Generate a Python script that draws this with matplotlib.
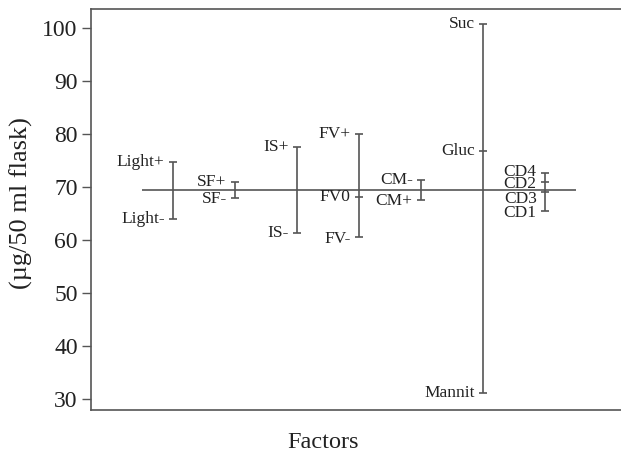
import numpy as np
import matplotlib
matplotlib.use("Agg")
import matplotlib.pyplot as plt

plt.rcParams["font.family"] = ["Liberation Serif", "DejaVu Serif"]

# factor groups along the x axis, with the level means
groups = ["Light", "SF", "IS", "FV", "CM", "Sugar", "CD"]
levels = [
    ["Light+", "Light-"],
    ["SF+", "SF-"],
    ["IS+", "IS-"],
    ["FV+", "FV0", "FV-"],
    ["CM-", "CM+"],
    ["Suc", "Gluc", "Mannit"],
    ["CD4", "CD2", "CD3", "CD1"],
]
values = [
    [74.8, 64.0],
    [70.9, 68.0],
    [77.5, 61.4],
    [79.9, 68.1, 60.5],
    [71.4, 67.5],
    [100.8, 76.7, 31.1],
    [72.6, 70.9, 69.1, 65.5],
]
# where the level names sit (the CD names are spread so they do not overlap)
label_y = [
    [74.8, 64.0],
    [71.0, 67.8],
    [77.5, 61.4],
    [79.9, 68.1, 60.2],
    [71.4, 67.3],
    [100.8, 76.7, 31.1],
    [72.8, 70.6, 67.8, 65.0],
]
grand_mean = 69.5

line_col = "#555555"
fig = plt.figure(figsize=(6.21, 4.65), dpi=100)
ax = fig.add_axes([0.1465, 0.118, 0.8535, 0.863])

ax.hlines(grand_mean, 0.5, len(groups) + 0.5, color=line_col, lw=1.2)
for i, (names, vals, ly) in enumerate(zip(levels, values, label_y)):
    x = i + 1
    ax.vlines(x, min(vals), max(vals), color=line_col, lw=1.2)
    ax.plot([x] * len(vals), vals, ls="none", marker="_", ms=6, mew=1.2,
            color=line_col)
    for name, yl in zip(names, ly):
        ax.annotate(name, (x, yl), xytext=(-6, 0), textcoords="offset points",
                    ha="right", va="center", fontsize=12.5, color="#222222")

ax.set_xlim(-0.3226, 8.226)
ax.set_ylim(27.9, 103.6)
ax.set_yticks(np.arange(30, 101, 10))
ax.set_xticks([])
ax.tick_params(axis="y", labelsize=17, length=6.5, width=1.0, color=line_col,
               labelcolor="#222222", pad=3)
for side in ["left", "top", "bottom"]:
    ax.spines[side].set_color(line_col)
    ax.spines[side].set_linewidth(1.2)
ax.spines["right"].set_visible(False)

ax.set_xlabel("Factors", fontsize=17.5, color="#222222")
ax.xaxis.set_label_coords(0.438, -0.055)
ax.set_ylabel("(\u00b5g/50 ml flask)", fontsize=19, color="#222222")
ax.yaxis.set_label_coords(-0.109, 0.516)

fig.savefig("out.png", dpi=100)
